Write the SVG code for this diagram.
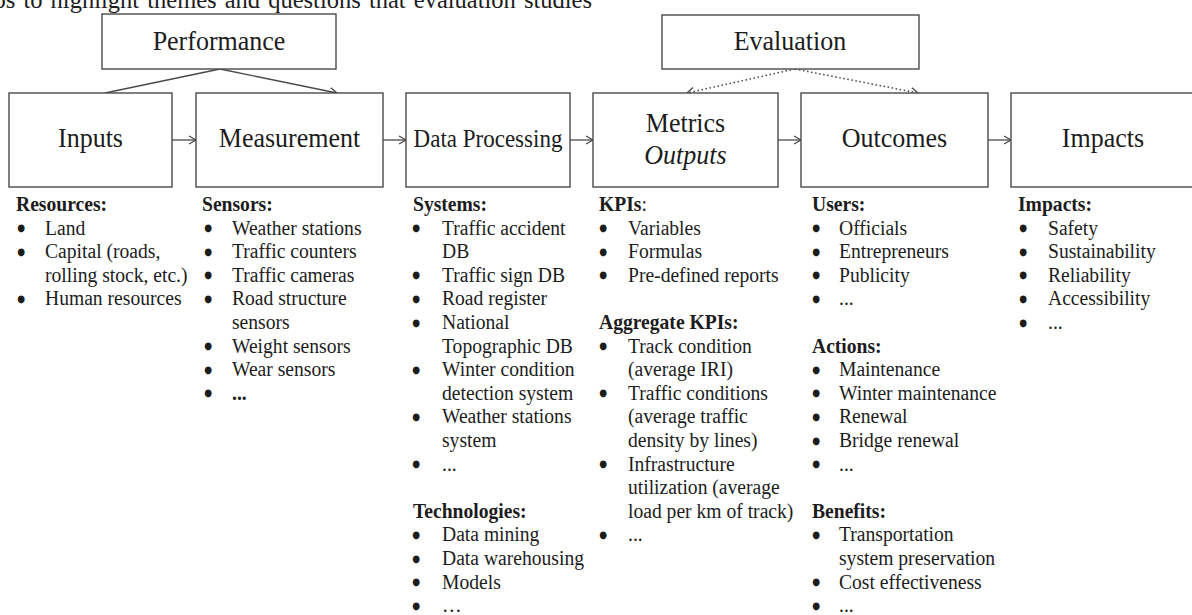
<svg xmlns="http://www.w3.org/2000/svg" width="1192" height="615" viewBox="0 0 1192 615">
<style>
text{font-family:"Liberation Serif","Times New Roman",serif;fill:#1c1c1c}
.box{fill:#fff;stroke:#4a4a4a;stroke-width:1.4}
.lbl{font-family:"Liberation Serif","Times New Roman",serif;font-size:26px;text-anchor:middle}
.body{font-size:19.6px}
.b{font-weight:bold}
.u{font-size:9px;font-family:"DejaVu Sans",sans-serif}
.ln{fill:none;stroke:#4a4a4a;stroke-width:1.3}
.dot{fill:none;stroke:#444;stroke-width:1.5;stroke-dasharray:1.5 2.6}
</style>
<defs>
<marker id="ah" markerUnits="userSpaceOnUse" markerWidth="12" markerHeight="12" refX="8" refY="5" orient="auto">
<path d="M1,1 L8,5 L1,9" fill="none" stroke="#4a4a4a" stroke-width="1.3"/>
</marker>
</defs>
<text x="592" y="8" text-anchor="end" style="font-size:24.5px" word-spacing="2">os to highlight themes and questions that evaluation studies</text>

<g id="connectors">
<path class="ln" d="M220,69 L105,93"/>
<path class="ln" d="M220,69 L337,93" marker-end="url(#ah)"/>
<path class="dot" d="M795,69 L687,93" marker-end="url(#ah)"/>
<path class="dot" d="M795,69 L918,93" marker-end="url(#ah)"/>
<path class="ln" d="M172,140 L196,140" marker-end="url(#ah)"/>
<path class="ln" d="M383,140 L406,140" marker-end="url(#ah)"/>
<path class="ln" d="M570,140 L593,140" marker-end="url(#ah)"/>
<path class="ln" d="M778,140 L801,140" marker-end="url(#ah)"/>
<path class="ln" d="M988,140 L1011,140" marker-end="url(#ah)"/>
</g>

<g id="performance">
<rect class="box" x="102" y="14" width="234" height="55"/>
<text class="lbl" transform="translate(219,50) scale(1,1.05)">Performance</text>
</g>
<g id="evaluation">
<rect class="box" x="662" y="15" width="257" height="54"/>
<text class="lbl" transform="translate(790,50) scale(1,1.05)">Evaluation</text>
</g>

<g id="inputs">
<rect class="box" x="9" y="93" width="163" height="94"/>
<text class="lbl" transform="translate(90.5,147) scale(1,1.05)">Inputs</text>
<text class="body" transform="translate(0,211) scale(1,1.1)">
<tspan class="b" x="16" y="0">Resources:</tspan>
<tspan class="u" x="17.3" y="18.45">●</tspan><tspan x="45" y="21.45">Land</tspan>
<tspan class="u" x="17.3" y="39.9">●</tspan><tspan x="45" y="42.9">Capital (roads,</tspan>
<tspan x="45" y="64.35">rolling stock, etc.)</tspan>
<tspan class="u" x="17.3" y="82.8">●</tspan><tspan x="45" y="85.8">Human resources</tspan>
</text>
</g>

<g id="measurement">
<rect class="box" x="196" y="93" width="187" height="94"/>
<text class="lbl" transform="translate(289.5,147) scale(1,1.05)">Measurement</text>
<text class="body" transform="translate(0,211) scale(1,1.1)">
<tspan class="b" x="202" y="0">Sensors:</tspan>
<tspan class="u" x="204.3" y="18.45">●</tspan><tspan x="232" y="21.45">Weather stations</tspan>
<tspan class="u" x="204.3" y="39.9">●</tspan><tspan x="232" y="42.9">Traffic counters</tspan>
<tspan class="u" x="204.3" y="61.35">●</tspan><tspan x="232" y="64.35">Traffic cameras</tspan>
<tspan class="u" x="204.3" y="82.8">●</tspan><tspan x="232" y="85.8">Road structure</tspan>
<tspan x="232" y="107.25">sensors</tspan>
<tspan class="u" x="204.3" y="125.7">●</tspan><tspan x="232" y="128.7">Weight sensors</tspan>
<tspan class="u" x="204.3" y="147.15">●</tspan><tspan x="232" y="150.15">Wear sensors</tspan>
<tspan class="u" x="204.3" y="168.6">●</tspan><tspan class="b" x="232" y="171.6">...</tspan>
</text>
</g>

<g id="data-processing">
<rect class="box" x="406" y="93" width="164" height="94"/>
<text class="lbl" style="font-size:23px" transform="translate(488,147) scale(1,1.05)">Data Processing</text>
<text class="body" transform="translate(0,211) scale(1,1.1)">
<tspan class="b" x="413" y="0">Systems:</tspan>
<tspan class="u" x="412.3" y="18.45">●</tspan><tspan x="442" y="21.45">Traffic accident</tspan>
<tspan x="442" y="42.9">DB</tspan>
<tspan class="u" x="412.3" y="61.35">●</tspan><tspan x="442" y="64.35">Traffic sign DB</tspan>
<tspan class="u" x="412.3" y="82.8">●</tspan><tspan x="442" y="85.8">Road register</tspan>
<tspan class="u" x="412.3" y="104.25">●</tspan><tspan x="442" y="107.25">National</tspan>
<tspan x="442" y="128.7">Topographic DB</tspan>
<tspan class="u" x="412.3" y="147.15">●</tspan><tspan x="442" y="150.15">Winter condition</tspan>
<tspan x="442" y="171.6">detection system</tspan>
<tspan class="u" x="412.3" y="190.05">●</tspan><tspan x="442" y="193.05">Weather stations</tspan>
<tspan x="442" y="214.5">system</tspan>
<tspan class="u" x="412.3" y="232.95">●</tspan><tspan x="442" y="235.95">...</tspan>
<tspan class="b" x="413" y="278.85">Technologies:</tspan>
<tspan class="u" x="412.3" y="297.3">●</tspan><tspan x="442" y="300.3">Data mining</tspan>
<tspan class="u" x="412.3" y="318.75">●</tspan><tspan x="442" y="321.75">Data warehousing</tspan>
<tspan class="u" x="412.3" y="340.2">●</tspan><tspan x="442" y="343.2">Models</tspan>
<tspan class="u" x="412.3" y="361.65">●</tspan><tspan x="442" y="364.65">…</tspan>
</text>
</g>

<g id="metrics">
<rect class="box" x="593" y="93" width="185" height="94"/>
<text class="lbl" transform="translate(685.5,132) scale(1,1.05)">Metrics</text>
<text class="lbl" style="font-style:italic" transform="translate(685.5,164) scale(1,1.05)">Outputs</text>
<text class="body" transform="translate(0,211) scale(1,1.1)">
<tspan class="b" x="599" y="0">KPIs</tspan><tspan>:</tspan>
<tspan class="u" x="599.3" y="18.45">●</tspan><tspan x="628" y="21.45">Variables</tspan>
<tspan class="u" x="599.3" y="39.9">●</tspan><tspan x="628" y="42.9">Formulas</tspan>
<tspan class="u" x="599.3" y="61.35">●</tspan><tspan x="628" y="64.35">Pre-defined reports</tspan>
<tspan class="b" x="599" y="107.25">Aggregate KPIs:</tspan>
<tspan class="u" x="599.3" y="125.7">●</tspan><tspan x="628" y="128.7">Track condition</tspan>
<tspan x="628" y="150.15">(average IRI)</tspan>
<tspan class="u" x="599.3" y="168.6">●</tspan><tspan x="628" y="171.6">Traffic conditions</tspan>
<tspan x="628" y="193.05">(average traffic</tspan>
<tspan x="628" y="214.5">density by lines)</tspan>
<tspan class="u" x="599.3" y="232.95">●</tspan><tspan x="628" y="235.95">Infrastructure</tspan>
<tspan x="628" y="257.4">utilization (average</tspan>
<tspan x="628" y="278.85">load per km of track)</tspan>
<tspan class="u" x="599.3" y="297.3">●</tspan><tspan x="628" y="300.3">...</tspan>
</text>
</g>

<g id="outcomes">
<rect class="box" x="801" y="93" width="187" height="94"/>
<text class="lbl" transform="translate(894.5,147) scale(1,1.05)">Outcomes</text>
<text class="body" transform="translate(0,211) scale(1,1.1)">
<tspan class="b" x="812" y="0">Users:</tspan>
<tspan class="u" x="812.3" y="18.45">●</tspan><tspan x="839" y="21.45">Officials</tspan>
<tspan class="u" x="812.3" y="39.9">●</tspan><tspan x="839" y="42.9">Entrepreneurs</tspan>
<tspan class="u" x="812.3" y="61.35">●</tspan><tspan x="839" y="64.35">Publicity</tspan>
<tspan class="u" x="812.3" y="82.8">●</tspan><tspan x="839" y="85.8">...</tspan>
<tspan class="b" x="812" y="128.7">Actions:</tspan>
<tspan class="u" x="812.3" y="147.15">●</tspan><tspan x="839" y="150.15">Maintenance</tspan>
<tspan class="u" x="812.3" y="168.6">●</tspan><tspan x="839" y="171.6">Winter maintenance</tspan>
<tspan class="u" x="812.3" y="190.05">●</tspan><tspan x="839" y="193.05">Renewal</tspan>
<tspan class="u" x="812.3" y="211.5">●</tspan><tspan x="839" y="214.5">Bridge renewal</tspan>
<tspan class="u" x="812.3" y="232.95">●</tspan><tspan x="839" y="235.95">...</tspan>
<tspan class="b" x="812" y="278.85">Benefits:</tspan>
<tspan class="u" x="812.3" y="297.3">●</tspan><tspan x="839" y="300.3">Transportation</tspan>
<tspan x="839" y="321.75">system preservation</tspan>
<tspan class="u" x="812.3" y="340.2">●</tspan><tspan x="839" y="343.2">Cost effectiveness</tspan>
<tspan class="u" x="812.3" y="361.65">●</tspan><tspan x="839" y="364.65">...</tspan>
</text>
</g>

<g id="impacts">
<rect class="box" x="1011" y="93" width="187" height="94"/>
<text class="lbl" transform="translate(1103,147) scale(1,1.05)">Impacts</text>
<text class="body" transform="translate(0,211) scale(1,1.1)">
<tspan class="b" x="1018" y="0">Impacts:</tspan>
<tspan class="u" x="1019.3" y="18.45">●</tspan><tspan x="1048" y="21.45">Safety</tspan>
<tspan class="u" x="1019.3" y="39.9">●</tspan><tspan x="1048" y="42.9">Sustainability</tspan>
<tspan class="u" x="1019.3" y="61.35">●</tspan><tspan x="1048" y="64.35">Reliability</tspan>
<tspan class="u" x="1019.3" y="82.8">●</tspan><tspan x="1048" y="85.8">Accessibility</tspan>
<tspan class="u" x="1019.3" y="104.25">●</tspan><tspan x="1048" y="107.25">...</tspan>
</text>
</g>
</svg>
